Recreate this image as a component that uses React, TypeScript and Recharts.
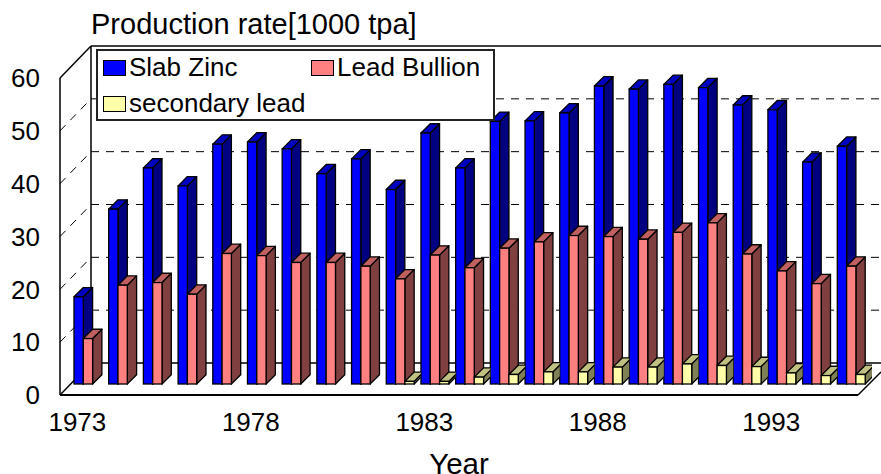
import React from 'react';
import { ComposedChart, Bar, XAxis, YAxis, CartesianGrid, Legend } from 'recharts';

const years = [1973,1974,1975,1976,1977,1978,1979,1980,1981,1982,1983,1984,1985,1986,1987,1988,1989,1990,1991,1992,1993,1994,1995];
const slabZinc = [16.5,33.1,40.9,37.5,45.4,45.8,44.5,39.8,42.6,36.8,47.5,40.9,49.7,49.8,51.3,56.4,55.8,56.7,56.1,52.8,51.9,42.0,45.0];
const leadBullion = [8.6,18.7,19.2,17.0,24.7,24.3,23.0,23.0,22.3,19.9,24.4,22.0,25.7,26.9,28.1,27.9,27.4,28.7,30.5,24.6,21.4,19.0,22.3];
const secondaryLead = [null,null,null,null,null,null,null,null,null,0.5,0.5,1.3,1.8,2.3,2.3,3.2,3.2,3.8,3.5,3.3,2.1,1.6,1.8];
const yTicks = [0,10,20,30,40,50,60];

const data = years.map((year, i) => ({
  year: String(year),
  slab: slabZinc[i],
  lead: leadBullion[i],
  secondary: secondaryLead[i],
}));

const FONT = '"Liberation Sans", Arial, sans-serif';
const BAR_W = 9.3;
const BAR_DEPTH = 9.3;
const SHIFT = 11;
const WALL_DX = 31;
const WALL_DY = 32;
const STEP = 798 / 23;
const EDGE = 1.3;

function makeShape(side: string, top: string, clipNext: boolean) {
  return function Shape3D(props: any) {
    const { width, height, fill, index } = props;
    if (!height || height <= 0) return null;
    const x = props.x + SHIFT;
    const y = props.y - SHIFT;
    const r = x + width;
    const b = y + height;
    const d = BAR_DEPTH;
    const clipId = `next-${index}`;
    const useClip = clipNext && index < years.length - 1;
    return (
      <g clipPath={useClip ? `url(#${clipId})` : undefined}>
        {useClip && (
          <clipPath id={clipId}>
            <rect x={x - 1} y={y - 40} width={STEP - 2 * width + 1} height={height + 80} />
          </clipPath>
        )}
        <polygon points={`${r},${y} ${r + d},${y - d} ${r + d},${b - d} ${r},${b}`} fill={side} stroke="#000" strokeWidth={EDGE} strokeLinejoin="round" />
        <polygon points={`${x},${y} ${x + d},${y - d} ${r + d},${y - d} ${r},${y}`} fill={top} stroke="#000" strokeWidth={EDGE} strokeLinejoin="round" />
        <rect x={x} y={y} width={width} height={height} fill={fill} stroke="#000" strokeWidth={EDGE} />
      </g>
    );
  };
}

function wallLine(props: any) {
  const { x1, x2, y1, index } = props;
  const isFloor = Math.abs(y1 - 395) < 1;
  const isTop = Math.abs(y1 - 78) < 1;
  const dash = isFloor || isTop ? undefined : '8 7';
  const width = isFloor || isTop ? 1.5 : 1;
  return (
    <g key={`wall-${index}`}>
      <line x1={x1 + WALL_DX} y1={y1 - WALL_DY} x2={x2 + 23} y2={y1 - WALL_DY} stroke="#000" strokeWidth={width} strokeDasharray={dash} />
      {!isFloor && !isTop && (
        <line x1={x1} y1={y1} x2={x1 + WALL_DX} y2={y1 - WALL_DY} stroke="#000" strokeWidth={1} strokeDasharray="8 7" />
      )}
      {(isFloor || isTop) && (
        <line x1={x1} y1={y1} x2={x1 + WALL_DX} y2={y1 - WALL_DY} stroke="#000" strokeWidth={1.5} />
      )}
      {isFloor && <line x1={x2} y1={y1} x2={x2 + 23} y2={y1 - 23} stroke="#000" strokeWidth={1.5} />}
      {isTop && <line x1={x1 + WALL_DX} y1={y1 - WALL_DY} x2={x1 + WALL_DX} y2={395 - WALL_DY} stroke="#000" strokeWidth={1.5} />}
    </g>
  );
}

function LegendBox({ payload }: any) {
  const items = payload || [];
  const pos = [
    { left: 7, top: 9.5 },
    { left: 215, top: 9.5 },
    { left: 7, top: 45.5 },
  ];
  return (
    <div style={{ position: 'relative', width: 399, height: 72, boxSizing: 'border-box', background: '#fff', border: '2px solid #222', fontFamily: FONT, fontSize: 26, color: '#000' }}>
      {items.map((it: any, i: number) => (
        <div key={it.value} style={{ position: 'absolute', left: pos[i].left - 2, top: pos[i].top - 2, display: 'flex', alignItems: 'center', height: 18, whiteSpace: 'nowrap' }}>
          <span style={{ display: 'inline-block', width: 21, height: 14, background: it.color, border: '1px solid #000', marginRight: 3 }} />
          <span>{it.value}</span>
        </div>
      ))}
    </div>
  );
}

export default function App() {
  return (
    <div style={{ position: 'absolute', left: 0, top: 0, width: 881, height: 474, overflow: 'hidden', background: '#fff' }}>
      <ComposedChart
        width={881}
        height={474}
        data={data}
        margin={{ top: 78, right: 23, bottom: 0, left: 0 }}
        barGap={0}
        barSize={BAR_W}
        style={{ fontFamily: FONT }}
      >
        <CartesianGrid vertical={false} horizontal={wallLine as any} />
        <XAxis
          dataKey="year"
          height={79}
          interval={4}
          tickLine={false}
          tickMargin={12}
          axisLine={{ stroke: '#000', strokeWidth: 2 }}
          tick={{ fill: '#000', fontSize: 26, fontFamily: FONT }}
          label={{ value: 'Year', position: 'insideBottom', offset: 0, fill: '#000', fontSize: 29.5, fontFamily: FONT }}
        />
        <YAxis
          domain={[0, 60]}
          ticks={yTicks}
          width={60}
          tickLine={false}
          tickSize={0}
          tickMargin={20}
          axisLine={{ stroke: '#000', strokeWidth: 1.5 }}
          tick={{ fill: '#000', fontSize: 26, fontFamily: FONT }}
        />
        <Bar dataKey="slab" name="Slab Zinc" fill="#0000FF" isAnimationActive={false} shape={makeShape('#000080', '#0000C0', false)} />
        <Bar dataKey="lead" name="Lead Bullion" fill="#FF8080" isAnimationActive={false} shape={makeShape('#804040', '#C06060', false)} />
        <Bar dataKey="secondary" name="secondary lead" fill="#FFFFAA" isAnimationActive={false} shape={makeShape('#808055', '#C0C080', true)} />
        <Legend
          layout="vertical"
          align="center"
          verticalAlign="middle"
          itemSorter={null as any}
          content={<LegendBox />}
          wrapperStyle={{ left: 96, top: 49, width: 399, height: 72, margin: 0 }}
        />
        <text x={91} y={33.5} fontSize={29} fontFamily={FONT} fill="#000">Production rate[1000 tpa]</text>
      </ComposedChart>
    </div>
  );
}
